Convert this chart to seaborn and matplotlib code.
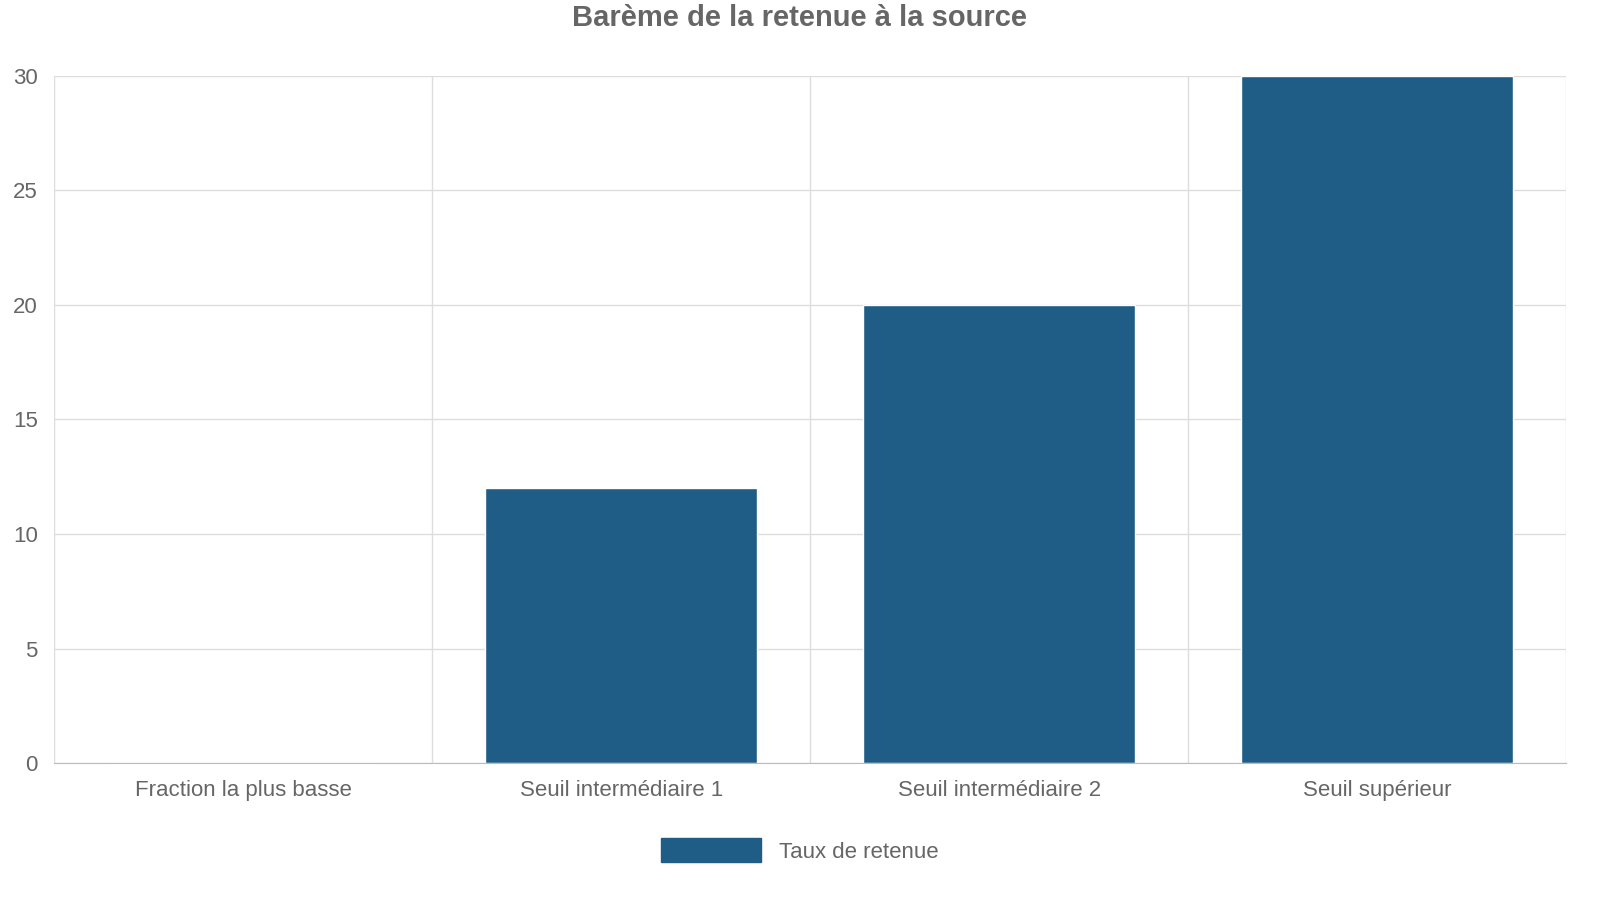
import matplotlib
matplotlib.use('Agg')
import matplotlib.pyplot as plt
import seaborn as sns
import pandas as pd
from matplotlib.patches import Patch

categories = ['Fraction la plus basse', 'Seuil intermédiaire 1', 'Seuil intermédiaire 2', 'Seuil supérieur']
taux = [0, 12, 20, 30]
series_name = 'Taux de retenue'
bar_color = '#1f5d87'
text_color = '#666666'

sns.set_style('white')
plt.rcParams['font.family'] = ['Liberation Sans', 'DejaVu Sans']

df = pd.DataFrame({'categorie': categories, 'taux': taux})

fig = plt.figure(figsize=(16, 9), dpi=100)
ax = fig.add_axes([0.034, 0.152, 0.945, 0.764])
sns.barplot(data=df, x='categorie', y='taux', color=bar_color, width=0.72,
            saturation=1, ax=ax)

ax.set_xlim(-0.5, len(categories) - 0.5)
ax.set_ylim(0, 30)
ax.set_yticks(range(0, 31, 5))
ax.set_xlabel('')
ax.set_ylabel('')

# grille horizontale + verticale aux limites des catégories
ax.set_xticks([i - 0.5 for i in range(len(categories) + 1)], minor=True)
ax.grid(axis='y', color='#dddddd', linewidth=1)
ax.grid(axis='x', which='minor', color='#dddddd', linewidth=1)
ax.set_axisbelow(True)
ax.tick_params(axis='x', which='major', length=0, pad=12, labelsize=16, labelcolor=text_color)
ax.tick_params(axis='x', which='minor', length=14, color='#cccccc')
ax.tick_params(axis='y', length=8, color='#dddddd', labelsize=16, labelcolor=text_color, pad=4)

for side in ['top', 'right', 'left']:
    ax.spines[side].set_visible(False)
ax.spines['bottom'].set_color('#bbbbbb')

fig.suptitle('Barème de la retenue à la source', y=0.995, fontsize=21,
             fontweight='bold', color=text_color)

fig.legend(handles=[Patch(color=bar_color, label=series_name)], loc='center',
           bbox_to_anchor=(0.5, 0.055), frameon=False, fontsize=16,
           handlelength=4.5, handleheight=1.3, labelcolor=text_color)

fig.savefig('out.png', dpi=100)
